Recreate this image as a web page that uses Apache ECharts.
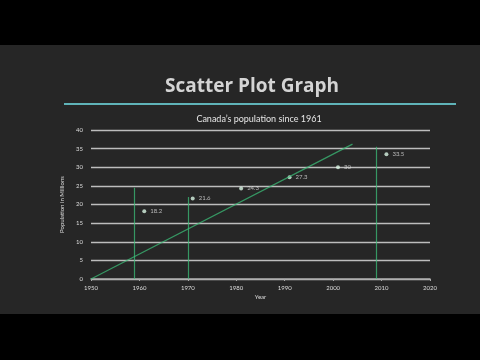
<!DOCTYPE html>
<html><head><meta charset="utf-8">
<script src="https://cdn.jsdelivr.net/npm/echarts@6/dist/echarts.min.js"></script>
<style>html,body{margin:0;padding:0;background:#000}#c{width:480px;height:360px}</style>
</head><body><div id="c"></div>
<script>
var years = [1961, 1971, 1981, 1991, 2001, 2011];
var population = [18.2, 21.6, 24.3, 27.3, 30, 33.5];
var pointLabels = ['18.2', '21.6', '24.3', '27.3', '30', '33.5'];
var trendLine = [[1950, 0], [2004, 36.2]];
var chalkVerticals = [[1959, 24.5], [1970, 22], [2009, 35.5]];

var chart = echarts.init(document.getElementById('c'), null, {renderer: 'canvas'});
var green = 'rgba(60,190,120,0.75)';
var option = {
  backgroundColor: '#000',
  graphic: [
    {type: 'rect', shape: {x: 0, y: 45, width: 480, height: 269}, style: {fill: '#262626'}, z: -10},
    {type: 'line', shape: {x1: 64, y1: 104, x2: 456, y2: 104}, style: {stroke: '#5fb3b8', lineWidth: 2}, z: 1}
  ],
  title: [
    {text: 'Scatter Plot Graph', left: 247, top: 72, textAlign: 'center',
     textStyle: {color: '#d4d4d4', fontSize: 19, fontWeight: 'bold', fontFamily: 'Open Sans'}},
    {text: 'Canada\u2019s population since 1961', left: 254, top: 110, textAlign: 'center',
     textStyle: {color: '#e6e6e6', fontSize: 9, fontWeight: 'normal', fontFamily: 'Lato'}}
  ],
  grid: {left: 91, right: 50, top: 130, bottom: 81},
  xAxis: {
    type: 'value', min: 1950, max: 2020, interval: 10,
    name: 'Year', nameLocation: 'middle', nameGap: 15,
    nameTextStyle: {color: '#ddd', fontSize: 6, fontFamily: 'Lato'},
    axisLine: {show: true, lineStyle: {color: '#aaa', width: 1.5}},
    axisTick: {show: true, length: 2, lineStyle: {color: '#aaa'}},
    axisLabel: {color: '#ddd', fontSize: 6, margin: 6, fontFamily: 'Lato',
      formatter: function (v) { return String(v); }},
    splitLine: {show: false}
  },
  yAxis: {
    type: 'value', min: 0, max: 40, interval: 5,
    name: 'Population in Millions', nameLocation: 'middle', nameGap: 17, nameRotate: 90,
    nameTextStyle: {color: '#ddd', fontSize: 6, fontFamily: 'Lato'},
    axisLine: {show: false},
    axisTick: {show: false},
    axisLabel: {color: '#ddd', fontSize: 6, margin: 8, fontFamily: 'Lato'},
    splitLine: {show: true, lineStyle: {color: '#bdbdbd', width: 1.3}}
  },
  series: [
    {
      type: 'scatter',
      data: years.map(function (y, i) { return [y, population[i]]; }),
      symbolSize: 4,
      itemStyle: {color: '#d8f5e4'},
      label: {show: true, position: 'right', distance: 4, color: '#ddd', fontSize: 6, fontFamily: 'Lato',
        formatter: function (p) { return pointLabels[p.dataIndex]; }},
      markLine: {
        silent: true, symbol: 'none', label: {show: false},
        lineStyle: {color: green, width: 1.2, type: 'solid'},
        data: [
          [{coord: trendLine[0]}, {coord: trendLine[1]}]
        ].concat(chalkVerticals.map(function (v) { return [{coord: [v[0], 0]}, {coord: [v[0], v[1]]}]; }))
      },
      z: 3
    }
  ]
};
chart.setOption(option);
</script></body></html>
